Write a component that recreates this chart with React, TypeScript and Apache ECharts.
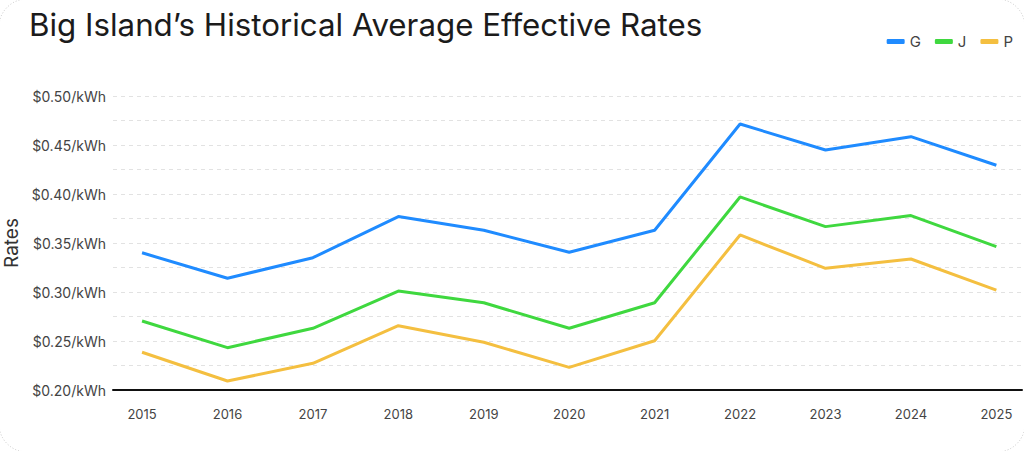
import React, { useEffect, useRef } from "react";
import * as echarts from "echarts";

const years = [2015, 2016, 2017, 2018, 2019, 2020, 2021, 2022, 2023, 2024, 2025];
const seriesG = [0.34, 0.314, 0.335, 0.377, 0.363, 0.3405, 0.363, 0.4714, 0.4449, 0.4585, 0.4293];
const seriesJ = [0.2704, 0.2432, 0.263, 0.301, 0.289, 0.263, 0.289, 0.397, 0.3667, 0.378, 0.3463];
const seriesP = [0.2385, 0.2092, 0.2272, 0.2656, 0.2487, 0.2231, 0.2503, 0.3582, 0.3242, 0.3337, 0.302];
const seriesNames = ["G", "J", "P"];
const colors = ["#1f8bff", "#3fd83f", "#f4bf40"];

export default function App() {
  const ref = useRef<HTMLDivElement>(null);
  useEffect(() => {
    if (!ref.current) return;
    const chart = echarts.init(ref.current, null, { renderer: "svg" });
    const allData = [seriesG, seriesJ, seriesP];
    chart.setOption({
      animation: false,
      backgroundColor: "#ffffff",
      title: {
        text: "Big Island’s Historical Average Effective Rates",
        left: 24,
        top: 4,
        textStyle: { fontFamily: "Inter", fontSize: 31.3, fontWeight: 400, color: "#1b1b1b" },
      },
      legend: {
        right: 6,
        top: 29,
        icon: "roundRect",
        itemWidth: 18,
        itemHeight: 5,
        itemGap: 14,
        textStyle: { fontFamily: "Inter", fontSize: 15, color: "#444" },
        data: seriesNames,
      },
      grid: {
        left: 113,
        right: 2,
        top: 96,
        bottom: 61,
        containLabel: false,
        outerBoundsMode: "none",
      },
      xAxis: {
        type: "value",
        min: 2014.66,
        max: 2025.3,
        axisLine: { show: true, lineStyle: { color: "#111", width: 2 } },
        axisTick: { show: false },
        splitLine: { show: false },
        axisLabel: {
          customValues: years,
          formatter: (v: number) => String(Math.round(v)),
          margin: 17,
          fontFamily: "Inter",
          fontSize: 13,
          color: "#444",
        },
      },
      yAxis: {
        type: "value",
        min: 0.2,
        max: 0.5,
        interval: 0.025,
        name: "Rates",
        nameLocation: "middle",
        nameGap: 92,
        nameTextStyle: { fontFamily: "Inter", fontSize: 19, color: "#333" },
        axisLine: { show: false },
        axisTick: { show: false },
        splitLine: { show: true, lineStyle: { color: "#e2e2e2", width: 1.2, type: [4, 4] } },
        axisLabel: {
          margin: 7,
          fontFamily: "Inter",
          fontSize: 14,
          color: "#444",
          formatter: (v: number) => {
            const m = Math.round(v * 1000);
            return m % 50 === 0 ? "$" + (m / 1000).toFixed(2) + "/kWh" : "";
          },
        },
      },
      graphic: [
        {
          type: "rect",
          shape: { x: -1, y: -1, width: 1026, height: 453, r: 28 },
          style: { fill: "none", stroke: "#c8c8c8", lineWidth: 1, lineDash: [1, 2] },
          silent: true,
        },
      ],
      series: seriesNames.map((name, i) => ({
        name,
        type: "line",
        data: years.map((y, k) => [y, allData[i][k]]),
        showSymbol: false,
        symbol: "none",
        lineStyle: { color: colors[i], width: 3 },
        itemStyle: { color: colors[i] },
      })),
    });
    return () => chart.dispose();
  }, []);
  return (
    <div
      ref={ref}
      style={{ position: "fixed", left: 0, top: 0, width: 1024, height: 451 }}
    />
  );
}
